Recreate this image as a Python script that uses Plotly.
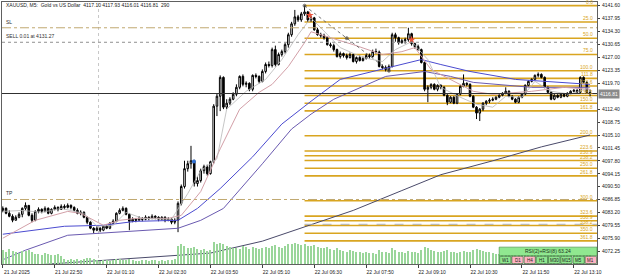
import plotly.graph_objects as go

# ---------------- data ----------------
time_labels = ["21 Jul 2025", "21 Jul 22:50", "22 Jul 01:10", "22 Jul 02:30",
               "22 Jul 03:50", "22 Jul 05:10", "22 Jul 06:30", "22 Jul 07:50",
               "22 Jul 09:10", "22 Jul 10:30", "22 Jul 11:50", "22 Jul 13:10"]
label_bars = [0, 16, 32, 48, 64, 80, 96, 112, 128, 144, 160, 176]

opens = [
    4083.84, 4084.40, 4083.00, 4082.16, 4081.04, 4081.88, 4082.72, 4084.40, 4085.24, 4082.44,
    4081.04, 4083.56, 4084.12, 4083.56, 4084.40, 4083.00, 4084.12, 4084.68, 4084.12, 4084.96,
    4084.68, 4085.24, 4084.68, 4083.84, 4083.00, 4083.28, 4081.88, 4080.48, 4078.80, 4078.24,
    4078.80, 4078.24, 4079.36, 4078.80, 4080.20, 4080.76, 4083.00, 4083.84, 4084.40, 4082.72,
    4080.76, 4081.32, 4081.04, 4081.60, 4081.32, 4081.88, 4081.60, 4082.16, 4081.88, 4081.32,
    4081.88, 4081.04, 4081.32, 4080.48, 4081.04, 4085.80, 4090.56, 4095.60, 4097.00, 4097.84,
    4091.40, 4092.24, 4095.04, 4096.16, 4094.20, 4097.56, 4113.24, 4116.04, 4121.36, 4112.96,
    4114.08, 4115.20, 4116.60, 4118.56, 4121.64, 4119.40, 4119.68, 4118.00, 4121.92, 4121.64,
    4120.24, 4123.04, 4125.00, 4124.72, 4129.20, 4125.00, 4127.80, 4128.64, 4130.60, 4133.40,
    4136.48, 4138.44, 4137.60, 4139.28, 4139.84, 4137.60, 4138.16, 4134.80, 4133.40, 4133.12,
    4132.56, 4130.60, 4130.32, 4129.20, 4127.24, 4128.08, 4127.52, 4126.96, 4127.80, 4125.84,
    4126.96, 4126.12, 4126.68, 4127.52, 4127.24, 4128.64, 4128.50, 4124.44, 4124.16, 4123.60,
    4124.44, 4133.40, 4132.56, 4131.16, 4131.72, 4132.00, 4133.68, 4130.88, 4130.04, 4129.20,
    4125.56, 4118.00, 4118.56, 4119.40, 4118.00, 4119.12, 4118.56, 4116.32, 4114.36, 4115.76,
    4114.08, 4116.60, 4118.84, 4119.68, 4119.40, 4116.04, 4112.96, 4111.28, 4112.40, 4114.08,
    4114.64, 4114.92, 4115.20, 4115.76, 4116.32, 4116.88, 4117.44, 4116.04, 4115.20, 4114.36,
    4115.76, 4116.60, 4119.12, 4120.24, 4120.80, 4121.92, 4122.20, 4121.36, 4118.56, 4117.16,
    4115.20, 4116.32, 4115.76, 4116.60, 4116.04, 4116.88, 4117.44, 4117.72, 4117.16, 4121.36,
    4119.96, 4117.10]

highs = [
    4084.96, 4084.68, 4083.84, 4082.72, 4082.44, 4083.28, 4084.68, 4086.08, 4085.24, 4083.00,
    4083.84, 4084.68, 4084.40, 4084.96, 4084.68, 4084.40, 4085.24, 4084.96, 4085.52, 4085.52,
    4085.80, 4085.52, 4084.96, 4084.40, 4083.84, 4083.56, 4082.16, 4080.76, 4079.08, 4079.36,
    4079.08, 4079.64, 4079.92, 4080.48, 4081.32, 4083.28, 4084.40, 4084.96, 4084.68, 4083.00,
    4081.88, 4081.60, 4082.16, 4081.88, 4082.44, 4082.16, 4082.72, 4082.44, 4082.16, 4082.16,
    4082.16, 4081.88, 4081.60, 4081.60, 4086.36, 4091.12, 4097.84, 4097.84, 4102.04, 4098.12,
    4093.36, 4095.60, 4096.72, 4096.72, 4097.84, 4113.80, 4116.88, 4121.92, 4121.64, 4115.20,
    4115.76, 4117.16, 4119.40, 4121.92, 4122.20, 4120.24, 4119.96, 4122.20, 4122.48, 4121.92,
    4123.60, 4125.56, 4125.84, 4129.76, 4130.32, 4128.36, 4129.20, 4131.16, 4133.96, 4137.04,
    4140.40, 4139.00, 4139.84, 4141.60, 4140.12, 4138.72, 4138.44, 4135.36, 4133.96, 4133.68,
    4132.84, 4131.16, 4130.88, 4129.48, 4128.64, 4128.36, 4128.08, 4128.36, 4128.08, 4127.24,
    4127.52, 4127.24, 4128.08, 4128.08, 4129.20, 4129.48, 4128.92, 4125.00, 4124.72, 4125.00,
    4133.96, 4133.96, 4132.84, 4132.28, 4132.56, 4135.36, 4133.96, 4131.16, 4130.60, 4129.48,
    4125.84, 4119.12, 4119.68, 4119.68, 4119.40, 4119.40, 4118.84, 4116.60, 4116.04, 4116.04,
    4116.88, 4119.12, 4122.20, 4119.96, 4119.68, 4116.32, 4113.24, 4112.68, 4114.36, 4114.92,
    4115.48, 4115.76, 4116.04, 4116.88, 4117.16, 4118.56, 4117.72, 4116.32, 4115.48, 4116.04,
    4116.88, 4119.40, 4120.52, 4121.08, 4122.20, 4122.76, 4122.48, 4121.64, 4118.84, 4117.44,
    4116.60, 4116.60, 4116.88, 4116.88, 4117.16, 4117.72, 4118.00, 4118.00, 4121.64, 4121.64,
    4120.24, 4117.93]

lows = [
    4083.28, 4082.72, 4081.88, 4080.48, 4081.04, 4081.60, 4081.88, 4083.84, 4082.16, 4080.48,
    4080.76, 4083.00, 4083.00, 4083.28, 4082.72, 4082.72, 4083.84, 4083.56, 4084.12, 4084.12,
    4084.40, 4084.12, 4083.56, 4082.72, 4082.44, 4081.60, 4079.92, 4078.52, 4077.40, 4077.96,
    4077.68, 4077.96, 4078.52, 4078.52, 4079.92, 4080.48, 4082.72, 4083.56, 4082.44, 4078.24,
    4080.48, 4080.48, 4081.04, 4080.76, 4081.04, 4081.04, 4081.32, 4081.32, 4080.76, 4081.04,
    4080.48, 4080.76, 4079.92, 4079.92, 4077.68, 4085.24, 4090.00, 4094.76, 4095.60, 4090.56,
    4090.56, 4091.68, 4094.20, 4093.64, 4093.92, 4097.00, 4110.44, 4111.84, 4112.40, 4112.40,
    4113.52, 4114.92, 4116.04, 4118.00, 4118.84, 4118.56, 4117.44, 4117.44, 4121.08, 4119.68,
    4119.96, 4122.48, 4124.16, 4124.16, 4124.44, 4124.72, 4127.24, 4128.08, 4129.76, 4132.84,
    4135.92, 4137.04, 4137.04, 4138.72, 4137.04, 4137.04, 4134.52, 4133.12, 4132.56, 4132.00,
    4130.32, 4129.76, 4128.64, 4126.96, 4126.68, 4126.96, 4126.40, 4126.68, 4125.56, 4125.28,
    4125.84, 4125.84, 4126.40, 4126.68, 4126.96, 4128.08, 4124.16, 4123.60, 4123.04, 4123.04,
    4124.16, 4131.44, 4130.60, 4130.88, 4130.88, 4131.44, 4130.32, 4129.48, 4128.92, 4125.28,
    4117.44, 4114.36, 4118.00, 4117.72, 4117.44, 4118.00, 4116.04, 4113.52, 4114.08, 4113.80,
    4113.80, 4116.32, 4118.56, 4118.84, 4115.76, 4112.68, 4109.60, 4109.04, 4111.84, 4113.52,
    4114.08, 4114.64, 4114.92, 4115.48, 4116.04, 4116.60, 4115.76, 4114.92, 4114.08, 4114.08,
    4115.48, 4116.32, 4118.84, 4119.96, 4120.52, 4121.36, 4121.08, 4118.28, 4116.88, 4114.92,
    4114.92, 4115.48, 4115.48, 4115.76, 4115.76, 4116.60, 4117.16, 4116.88, 4116.88, 4119.68,
    4116.88, 4116.01]

closes = [
    4084.40, 4083.00, 4082.16, 4081.04, 4081.88, 4082.72, 4084.40, 4085.24, 4082.44, 4081.04,
    4083.56, 4084.12, 4083.56, 4084.40, 4083.00, 4084.12, 4084.68, 4084.12, 4084.96, 4084.68,
    4085.24, 4084.68, 4083.84, 4083.00, 4083.28, 4081.88, 4080.48, 4078.80, 4078.24, 4078.80,
    4078.24, 4079.36, 4078.80, 4080.20, 4080.76, 4083.00, 4083.84, 4084.40, 4082.72, 4080.76,
    4081.32, 4081.04, 4081.60, 4081.32, 4081.88, 4081.60, 4082.16, 4081.88, 4081.32, 4081.88,
    4081.04, 4081.32, 4080.48, 4081.04, 4085.80, 4090.56, 4095.60, 4097.00, 4097.84, 4091.40,
    4092.24, 4095.04, 4096.16, 4094.20, 4097.56, 4113.24, 4116.04, 4121.36, 4112.96, 4114.08,
    4115.20, 4116.60, 4118.56, 4121.64, 4119.40, 4119.68, 4118.00, 4121.92, 4121.64, 4120.24,
    4123.04, 4125.00, 4124.72, 4129.20, 4125.00, 4127.80, 4128.64, 4130.60, 4133.40, 4136.48,
    4138.44, 4137.60, 4139.28, 4139.84, 4137.60, 4138.16, 4134.80, 4133.40, 4133.12, 4132.56,
    4130.60, 4130.32, 4129.20, 4127.24, 4128.08, 4127.52, 4126.96, 4127.80, 4125.84, 4126.96,
    4126.12, 4126.68, 4127.52, 4127.24, 4128.64, 4128.50, 4124.44, 4124.16, 4123.60, 4124.44,
    4133.40, 4132.56, 4131.16, 4131.72, 4132.00, 4133.68, 4130.88, 4130.04, 4129.20, 4125.56,
    4118.00, 4118.56, 4119.40, 4118.00, 4119.12, 4118.56, 4116.32, 4114.36, 4115.76, 4114.08,
    4116.60, 4118.84, 4119.68, 4119.40, 4116.04, 4112.96, 4111.28, 4112.40, 4114.08, 4114.64,
    4114.92, 4115.20, 4115.76, 4116.32, 4116.88, 4117.44, 4116.04, 4115.20, 4114.36, 4115.76,
    4116.60, 4119.12, 4120.24, 4120.80, 4121.92, 4122.20, 4121.36, 4118.56, 4117.16, 4115.20,
    4116.32, 4115.76, 4116.60, 4116.04, 4116.88, 4117.44, 4117.72, 4117.16, 4121.36, 4119.96,
    4117.10, 4116.81]

volumes = [
    420, 380, 450, 400, 360, 330, 410, 390, 440, 370,
    320, 300, 280, 350, 300, 260, 290, 310, 240, 150,
    120, 140, 110, 160, 130, 150, 170, 180, 140, 120,
    90, 110, 130, 100, 120, 150, 140, 110, 130, 160,
    120, 100, 90, 110, 120, 100, 130, 110, 90, 120,
    100, 110, 130, 140, 560, 620, 540, 500, 480, 520,
    450, 420, 460, 400, 430, 680, 600, 640, 620, 550,
    520, 480, 500, 460, 540, 510, 470, 530, 490, 450,
    500, 520, 480, 560, 580, 520, 500, 540, 600, 620,
    650, 600, 580, 620, 560, 540, 580, 520, 500, 480,
    520, 460, 440, 480, 420, 400, 380, 420, 400, 360,
    380, 340, 360, 330, 350, 320, 420, 380, 360, 340,
    480, 420, 380, 360, 340, 400, 380, 360, 350, 420,
    520, 480, 420, 400, 380, 360, 400, 420, 380, 360,
    340, 380, 400, 360, 380, 420, 460, 440, 400, 380,
    360, 340, 320, 300, 320, 340, 330, 310, 320, 300,
    310, 380, 360, 340, 330, 320, 300, 360, 340, 380,
    360, 320, 300, 290, 280, 300, 310, 290, 380, 340,
    320, 290]

# moving averages (bar index, price)
ma_fast_bars = [0, 6, 12, 18, 25, 29, 34, 38, 43, 52, 57, 61, 66, 69, 75, 81, 86, 91, 95, 98,
                104, 111, 117, 121, 126, 131, 135, 141, 146, 151, 155, 160, 164, 169, 175, 181]
ma_fast_vals = [4083.54, 4083.82, 4083.26, 4084.38, 4082.98, 4079.34, 4079.62, 4083.26, 4081.58,
                4081.30, 4088.58, 4095.02, 4098.38, 4112.39, 4117.43, 4120.79, 4126.39, 4133.40,
                4138.16, 4135.36, 4129.76, 4126.95, 4125.83, 4129.20, 4131.44, 4126.39, 4118.55,
                4115.75, 4113.79, 4112.95, 4116.03, 4115.75, 4120.23, 4117.43, 4116.59, 4118.55]
ma_mid_bars = [0, 10, 20, 24, 31, 36, 41, 51, 55, 61, 67, 73, 79, 83, 88, 93, 95, 100, 108,
               117, 123, 127, 132, 145, 151, 163, 173, 181]
ma_mid_vals = [4075.98, 4081.02, 4083.54, 4082.98, 4079.62, 4081.02, 4081.58, 4081.58, 4082.42,
               4089.14, 4101.19, 4112.39, 4117.15, 4119.39, 4124.43, 4131.16, 4134.24, 4132.84,
               4130.60, 4127.79, 4128.63, 4129.76, 4123.59, 4117.43, 4116.59, 4117.43, 4118.55,
               4117.99]
ma_a_bars = [0, 19, 31, 41, 54, 60, 67, 77, 86, 95, 104, 119, 129, 135, 144, 158, 181]
ma_a_vals = [4077.10, 4079.34, 4079.62, 4080.74, 4081.02, 4084.38, 4089.98, 4098.94, 4108.19,
             4114.63, 4120.79, 4124.15, 4126.39, 4124.99, 4123.03, 4120.79, 4119.39]
ma_b_bars = [0, 7, 20, 31, 41, 54, 61, 68, 80, 89, 95, 102, 118, 130, 138, 145, 163, 181]
ma_b_vals = [4069.90, 4072.60, 4076.81, 4077.38, 4077.94, 4078.78, 4081.02, 4084.38, 4096.98,
             4106.79, 4110.99, 4115.19, 4121.63, 4123.03, 4121.63, 4119.95, 4118.55, 4118.55]
ma_slow_bars = [0, 32, 64, 80, 92, 108, 123, 135, 151, 166, 181]
ma_slow_vals = [4067.80, 4069.81, 4071.78, 4075.14, 4078.78, 4083.82, 4089.42, 4093.90,
                4097.82, 4101.75, 4105.11]

price_ticks = [4141.60, 4137.95, 4134.30, 4130.65, 4127.00, 4123.35, 4119.70, 4112.40,
               4108.75, 4105.10, 4101.45, 4097.80, 4094.15, 4090.50, 4086.85, 4083.20,
               4079.55, 4075.90, 4072.25]

fib_high = 4141.60
fib_low = 4123.25
fib_start_bar = 93
fib_end_bar = 119
fib_pcts = [0, 25, 50, 75, 100, 111.8, 123.6, 138.2, 150, 161.8,
            200, 223.6, 230.9, 238.2, 250, 261.8,
            300, 323.6, 330.9, 338.2, 350, 361.8]

sl_price = 4135.36
sell_price = 4131.27
tp_price = 4086.90
extra_level = 4079.90
bid_price = 4116.81
day_break_bar = 29.5

trade_marks_bars = [94.6, 126.0]
trade_marks_vals = [4138.9, 4132.0]
blue_mark_bar = [58.9]
blue_mark_val = [4097.6]

tf_names = ["W1", "D1", "H4", "H1", "M30", "M15", "M5", "M1"]
tf_up = [True, False, False, True, True, True, True, False]
rsi_text = "RSI(2)+RSI(8) 63.24"
title_text = "XAUUSD, M5:  Gold vs US Dollar  4117.10 4117.93 4116.01 4116.81  290"

# ---------------- figure ----------------
W, H = 625, 276
ML, MR, MT, MB = 1, 28, 2, 10
PW, PH = W - ML - MR, H - MT - MB
bar_px = 3.25
x_lo = -0.25
x_hi = x_lo + PW / bar_px
y_lo, y_hi = 4068.695, 4142.636

bars = list(range(len(closes)))
FONT = "Liberation Sans"
GOLD = "#d9a520"

fig = go.Figure()

fig.add_trace(go.Bar(x=bars, y=volumes, yaxis="y2", width=0.32,
                     marker=dict(color="#9ad69a", line=dict(width=0)),
                     hoverinfo="skip", showlegend=False))

for bx, vals, col, wd in [(ma_slow_bars, ma_slow_vals, "#4a4a6a", 1.0),
                          (ma_b_bars, ma_b_vals, "#6a5ab0", 1.0),
                          (ma_a_bars, ma_a_vals, "#4b4bd0", 1.0),
                          (ma_mid_bars, ma_mid_vals, "#d3a0a8", 1.0),
                          (ma_fast_bars, ma_fast_vals, "#b8b8b8", 0.8)]:
    fig.add_trace(go.Scatter(x=bx, y=vals, mode="lines", line=dict(color=col, width=wd),
                             hoverinfo="skip", showlegend=False))

# fib levels
fib_range = fib_high - fib_low
for p in fib_pcts:
    lvl = fib_high - p / 100.0 * fib_range
    fig.add_shape(type="line", xref="x", yref="y", x0=fib_start_bar, x1=x_hi,
                  y0=lvl, y1=lvl, line=dict(color=GOLD, width=1.6), layer="below")
    fig.add_annotation(xref="paper", yref="y", x=0.997, y=lvl, text="%.1f" % p,
                       showarrow=False, xanchor="right", yanchor="bottom", yshift=-1,
                       font=dict(family=FONT, size=5, color=GOLD))

# fib trend line
fig.add_trace(go.Scatter(x=[fib_start_bar, (fib_start_bar + fib_end_bar) / 2, fib_end_bar],
                         y=[fib_high, (fib_high + fib_low) / 2, fib_low],
                         mode="lines+markers", line=dict(color="#505050", width=0.8, dash="dot"),
                         marker=dict(size=[3, 3, 3], color="#404040"),
                         hoverinfo="skip", showlegend=False))

# trade lines
fig.add_shape(type="line", xref="paper", yref="y", x0=0, x1=1, y0=sl_price, y1=sl_price,
              line=dict(color="#c0a870", width=1, dash="dashdot"))
fig.add_shape(type="line", xref="paper", yref="y", x0=0, x1=1, y0=sell_price, y1=sell_price,
              line=dict(color="#909090", width=1, dash="dot"))
fig.add_shape(type="line", xref="paper", yref="y", x0=0, x1=1, y0=tp_price, y1=tp_price,
              line=dict(color="#c0a870", width=1, dash="dashdot"))
fig.add_shape(type="line", xref="x", yref="y", x0=fib_start_bar, x1=x_hi, y0=extra_level,
              y1=extra_level, line=dict(color="#b0b0b0", width=1, dash="dash"))
fig.add_shape(type="line", xref="paper", yref="y", x0=0, x1=1, y0=bid_price, y1=bid_price,
              line=dict(color="#303030", width=1))
fig.add_shape(type="line", xref="x", yref="paper", x0=day_break_bar, x1=day_break_bar,
              y0=0, y1=1, line=dict(color="#c8c8c8", width=1, dash="dot"), layer="below")

# candles
fig.add_trace(go.Candlestick(
    x=bars, open=opens, high=highs, low=lows, close=closes,
    increasing=dict(fillcolor="white", line=dict(color="black", width=1)),
    decreasing=dict(fillcolor="black", line=dict(color="black", width=1)),
    whiskerwidth=0, hoverinfo="skip", showlegend=False))

fig.add_trace(go.Scatter(x=trade_marks_bars, y=trade_marks_vals, mode="markers",
                         marker=dict(symbol="star", size=6, color="#e8503a"),
                         hoverinfo="skip", showlegend=False))
fig.add_trace(go.Scatter(x=blue_mark_bar, y=blue_mark_val, mode="markers",
                         marker=dict(symbol="circle", size=4, color="#2f6fd0"),
                         hoverinfo="skip", showlegend=False))

# texts
def py2paper(py):
    return (H - MB - py) / PH

def px2paper(px):
    return (px - ML) / PW

fig.add_annotation(xref="paper", yref="paper", x=px2paper(3), y=py2paper(5), text=title_text,
                   showarrow=False, xanchor="left", yanchor="middle",
                   font=dict(family=FONT, size=5, color="#202020"))
for txt, lvl in [("SL", sl_price), ("SELL 0.01 at 4131.27", sell_price), ("TP", tp_price)]:
    fig.add_annotation(xref="paper", yref="y", x=px2paper(3), y=lvl, text=txt,
                       showarrow=False, xanchor="left", yanchor="bottom", yshift=1,
                       font=dict(family=FONT, size=5, color="#303030"))

fig.add_annotation(xref="paper", yref="y", x=1, y=bid_price, text="4116.81", showarrow=False,
                   xanchor="left", yanchor="middle", xshift=1, bgcolor="#8a8a8a",
                   borderpad=1, font=dict(family=FONT, size=5, color="white"))

# RSI panel
panel_x0, panel_x1 = 499, 597
fig.add_shape(type="rect", xref="paper", yref="paper", x0=px2paper(panel_x0), x1=px2paper(panel_x1),
              y0=py2paper(257.5), y1=py2paper(249), fillcolor="#90e890",
              line=dict(color="#3a8a3a", width=0.6))
fig.add_annotation(xref="paper", yref="paper", x=px2paper((panel_x0 + panel_x1) / 2),
                   y=py2paper(253.2), text=rsi_text, showarrow=False,
                   xanchor="center", yanchor="middle", font=dict(family=FONT, size=5, color="#203020"))
cw = (panel_x1 - panel_x0) / len(tf_names)
for k, (nm, up) in enumerate(zip(tf_names, tf_up)):
    cx0 = panel_x0 + k * cw + 0.5
    cx1 = panel_x0 + (k + 1) * cw - 0.5
    fig.add_shape(type="rect", xref="paper", yref="paper", x0=px2paper(cx0), x1=px2paper(cx1),
                  y0=py2paper(265.5), y1=py2paper(258.3),
                  fillcolor="#8fe68f" if up else "#ffb3c3",
                  line=dict(color="#2f5f2f", width=0.6))
    fig.add_annotation(xref="paper", yref="paper", x=px2paper((cx0 + cx1) / 2), y=py2paper(262),
                       text=nm, showarrow=False, xanchor="center", yanchor="middle",
                       font=dict(family=FONT, size=4.5, color="#202020"))

fig.update_layout(
    width=W, height=H, margin=dict(l=ML, r=MR, t=MT, b=MB),
    paper_bgcolor="white", plot_bgcolor="white", showlegend=False,
    bargap=0,
    xaxis=dict(range=[x_lo, x_hi], rangeslider=dict(visible=False), showgrid=False, zeroline=False,
               tickmode="array", tickvals=label_bars, ticktext=time_labels,
               ticks="outside", ticklen=3, tickcolor="#404040", ticklabelshift=14,
               ticklabelstandoff=0,
               tickfont=dict(family=FONT, size=5, color="#202020"),
               showline=True, linecolor="#606060", linewidth=1, mirror=True),
    yaxis=dict(range=[y_lo, y_hi], side="right", showgrid=False, zeroline=False,
               tickmode="array", tickvals=price_ticks, ticktext=["%.2f" % v for v in price_ticks],
               ticks="outside", ticklen=2, tickcolor="#404040", ticklabelstandoff=1,
               tickfont=dict(family=FONT, size=5, color="#202020"),
               showline=True, linecolor="#606060", linewidth=1, mirror=True),
    yaxis2=dict(range=[0, 8000], overlaying="y", visible=False),
)

fig.write_html("out.html")
